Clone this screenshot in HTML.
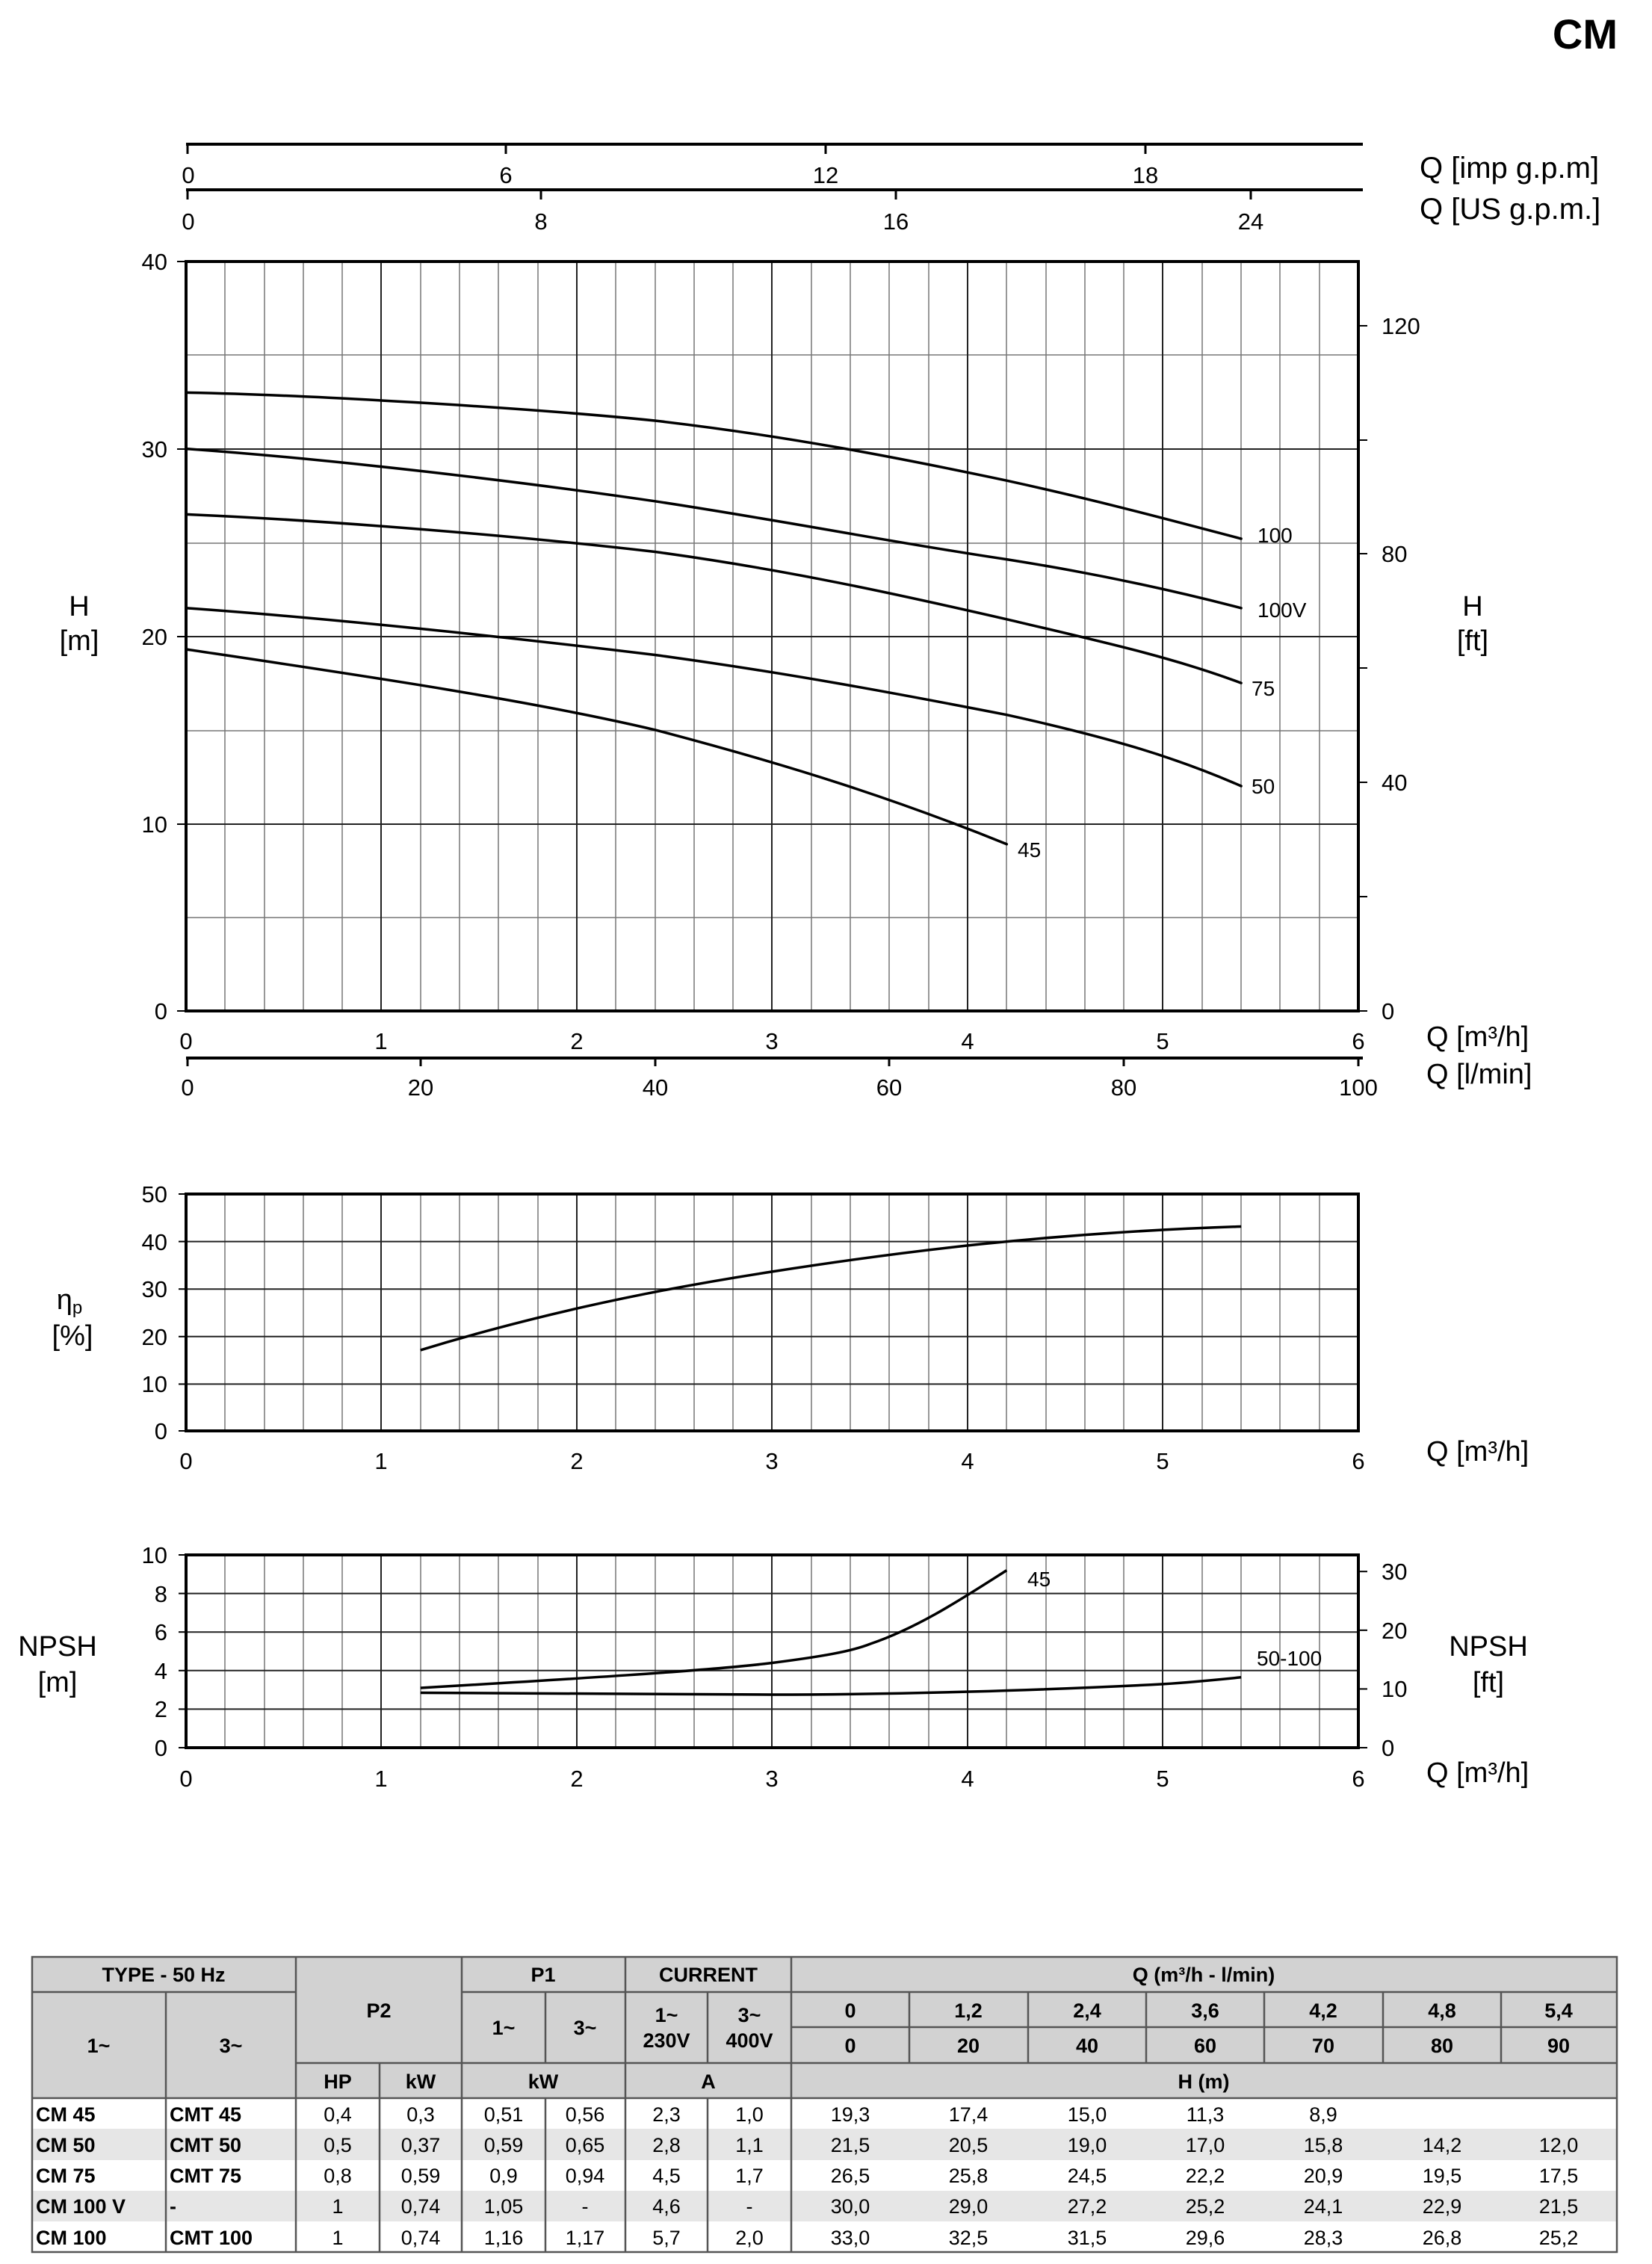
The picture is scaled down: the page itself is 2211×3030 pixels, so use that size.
<!DOCTYPE html>
<html><head><meta charset="utf-8"><style>
html,body{margin:0;padding:0;background:#fff}
svg{display:block}
text{font-family:"Liberation Sans",sans-serif;fill:#000}
</style></head><body>
<svg width="2211" height="3030" viewBox="0 0 2211 3030" xmlns="http://www.w3.org/2000/svg">
<text x="2165" y="65" font-size="56" font-weight="bold" text-anchor="end">CM</text>

<!-- top axes -->
<g stroke="#000" stroke-width="4">
<line x1="249" y1="193" x2="1824" y2="193"/>
<line x1="249" y1="254" x2="1824" y2="254"/>
</g>
<g stroke="#000" stroke-width="3">
<line x1="251" y1="193" x2="251" y2="206"/><line x1="677" y1="193" x2="677" y2="206"/><line x1="1105" y1="193" x2="1105" y2="206"/><line x1="1533" y1="193" x2="1533" y2="206"/>
<line x1="251" y1="254" x2="251" y2="267"/><line x1="724" y1="254" x2="724" y2="267"/><line x1="1199" y1="254" x2="1199" y2="267"/><line x1="1674" y1="254" x2="1674" y2="267"/>
</g>
<g font-size="31" text-anchor="middle">
<text x="252" y="245">0</text><text x="677" y="245">6</text><text x="1105" y="245">12</text><text x="1533" y="245">18</text>
<text x="252" y="307">0</text><text x="724" y="307">8</text><text x="1199" y="307">16</text><text x="1674" y="307">24</text>
</g>
<text x="1900" y="238" font-size="40">Q [imp g.p.m]</text>
<text x="1900" y="293" font-size="40">Q [US g.p.m.]</text>

<!-- main chart grid -->
<g stroke="#777" stroke-width="1.5">
<line x1="301" y1="350" x2="301" y2="1353"/><line x1="354" y1="350" x2="354" y2="1353"/><line x1="406" y1="350" x2="406" y2="1353"/><line x1="458" y1="350" x2="458" y2="1353"/>
<line x1="563" y1="350" x2="563" y2="1353"/><line x1="615" y1="350" x2="615" y2="1353"/><line x1="667" y1="350" x2="667" y2="1353"/><line x1="720" y1="350" x2="720" y2="1353"/>
<line x1="824" y1="350" x2="824" y2="1353"/><line x1="877" y1="350" x2="877" y2="1353"/><line x1="929" y1="350" x2="929" y2="1353"/><line x1="981" y1="350" x2="981" y2="1353"/>
<line x1="1086" y1="350" x2="1086" y2="1353"/><line x1="1138" y1="350" x2="1138" y2="1353"/><line x1="1190" y1="350" x2="1190" y2="1353"/><line x1="1243" y1="350" x2="1243" y2="1353"/>
<line x1="1347" y1="350" x2="1347" y2="1353"/><line x1="1400" y1="350" x2="1400" y2="1353"/><line x1="1452" y1="350" x2="1452" y2="1353"/><line x1="1504" y1="350" x2="1504" y2="1353"/>
<line x1="1609" y1="350" x2="1609" y2="1353"/><line x1="1661" y1="350" x2="1661" y2="1353"/><line x1="1713" y1="350" x2="1713" y2="1353"/><line x1="1766" y1="350" x2="1766" y2="1353"/>
<line x1="249" y1="475" x2="1818" y2="475"/><line x1="249" y1="727" x2="1818" y2="727"/><line x1="249" y1="978" x2="1818" y2="978"/><line x1="249" y1="1228" x2="1818" y2="1228"/>
</g>
<g stroke="#222" stroke-width="2">
<line x1="510" y1="350" x2="510" y2="1353"/><line x1="772" y1="350" x2="772" y2="1353"/><line x1="1033" y1="350" x2="1033" y2="1353"/><line x1="1295" y1="350" x2="1295" y2="1353"/><line x1="1556" y1="350" x2="1556" y2="1353"/>
<line x1="249" y1="601" x2="1818" y2="601"/><line x1="249" y1="852" x2="1818" y2="852"/><line x1="249" y1="1103" x2="1818" y2="1103"/>
</g>
<rect x="249" y="350" width="1569" height="1003" fill="none" stroke="#000" stroke-width="4"/>
<g stroke="#000" stroke-width="2">
<line x1="237" y1="350" x2="249" y2="350"/><line x1="237" y1="601" x2="249" y2="601"/><line x1="237" y1="852" x2="249" y2="852"/><line x1="237" y1="1103" x2="249" y2="1103"/><line x1="237" y1="1353" x2="249" y2="1353"/>
<line x1="1818" y1="436" x2="1830" y2="436"/><line x1="1818" y1="589" x2="1830" y2="589"/><line x1="1818" y1="741" x2="1830" y2="741"/><line x1="1818" y1="894" x2="1830" y2="894"/><line x1="1818" y1="1047" x2="1830" y2="1047"/><line x1="1818" y1="1200" x2="1830" y2="1200"/><line x1="1818" y1="1353" x2="1830" y2="1353"/>
</g>
<g font-size="31" text-anchor="end">
<text x="224" y="361">40</text><text x="224" y="612">30</text><text x="224" y="863">20</text><text x="224" y="1114">10</text><text x="224" y="1364">0</text>
</g>
<g font-size="31">
<text x="1849" y="447">120</text><text x="1849" y="752">80</text><text x="1849" y="1058">40</text><text x="1849" y="1364">0</text>
</g>
<g font-size="38" text-anchor="middle">
<text x="106" y="824">H</text><text x="106" y="870">[m]</text>
<text x="1971" y="824">H</text><text x="1971" y="870">[ft]</text>
</g>
<!-- curves -->
<g fill="none" stroke="#000" stroke-width="3.5" stroke-linejoin="round" stroke-linecap="round">
<path d="M249,525.4 C400,528 700,545 876.6,563 C1050,583 1200,612 1347.3,643.2 C1470,670 1570,697 1661.1,721"/>
<path d="M249,600.6 C450,615 700,645 876.6,670.8 C1050,697 1200,727 1347.3,748.6 C1470,768 1570,790 1661.1,813.8"/>
<path d="M249,688.4 C450,697 700,718 876.6,738.5 C1050,762 1200,795 1347.3,828.8 C1480,860 1570,880 1661.1,914.1"/>
<path d="M249,813.8 C450,828 700,855 876.6,876.5 C1050,900 1200,928 1347.3,956.7 C1480,986 1570,1012 1661.1,1052"/>
<path d="M249,869 C450,899 700,935 876.6,976.8 C1060,1025 1200,1070 1347.3,1129.8"/>
</g>
<g font-size="28">
<text x="1683" y="726">100</text><text x="1683" y="826">100V</text><text x="1675" y="931">75</text><text x="1675" y="1062">50</text><text x="1362" y="1147">45</text>
</g>

<!-- bottom axes main -->
<line x1="249" y1="1416" x2="1824" y2="1416" stroke="#000" stroke-width="4"/>
<g stroke="#000" stroke-width="3">
<line x1="251" y1="1416" x2="251" y2="1427"/><line x1="563" y1="1416" x2="563" y2="1427"/><line x1="877" y1="1416" x2="877" y2="1427"/><line x1="1190" y1="1416" x2="1190" y2="1427"/><line x1="1504" y1="1416" x2="1504" y2="1427"/><line x1="1818" y1="1416" x2="1818" y2="1427"/>
</g>
<g font-size="31" text-anchor="middle">
<text x="249" y="1404">0</text><text x="510" y="1404">1</text><text x="772" y="1404">2</text><text x="1033" y="1404">3</text><text x="1295" y="1404">4</text><text x="1556" y="1404">5</text><text x="1818" y="1404">6</text>
<text x="251" y="1466">0</text><text x="563" y="1466">20</text><text x="877" y="1466">40</text><text x="1190" y="1466">60</text><text x="1504" y="1466">80</text><text x="1818" y="1466">100</text>
</g>
<g font-size="38">
<text x="1909" y="1400">Q [m³/h]</text><text x="1909" y="1450">Q [l/min]</text>
</g>

<!-- efficiency chart -->
<g stroke="#777" stroke-width="1.5">
<line x1="301" y1="1598" x2="301" y2="1915"/><line x1="354" y1="1598" x2="354" y2="1915"/><line x1="406" y1="1598" x2="406" y2="1915"/><line x1="458" y1="1598" x2="458" y2="1915"/>
<line x1="563" y1="1598" x2="563" y2="1915"/><line x1="615" y1="1598" x2="615" y2="1915"/><line x1="667" y1="1598" x2="667" y2="1915"/><line x1="720" y1="1598" x2="720" y2="1915"/>
<line x1="824" y1="1598" x2="824" y2="1915"/><line x1="877" y1="1598" x2="877" y2="1915"/><line x1="929" y1="1598" x2="929" y2="1915"/><line x1="981" y1="1598" x2="981" y2="1915"/>
<line x1="1086" y1="1598" x2="1086" y2="1915"/><line x1="1138" y1="1598" x2="1138" y2="1915"/><line x1="1190" y1="1598" x2="1190" y2="1915"/><line x1="1243" y1="1598" x2="1243" y2="1915"/>
<line x1="1347" y1="1598" x2="1347" y2="1915"/><line x1="1400" y1="1598" x2="1400" y2="1915"/><line x1="1452" y1="1598" x2="1452" y2="1915"/><line x1="1504" y1="1598" x2="1504" y2="1915"/>
<line x1="1609" y1="1598" x2="1609" y2="1915"/><line x1="1661" y1="1598" x2="1661" y2="1915"/><line x1="1713" y1="1598" x2="1713" y2="1915"/><line x1="1766" y1="1598" x2="1766" y2="1915"/>
</g>
<g stroke="#222" stroke-width="2">
<line x1="510" y1="1598" x2="510" y2="1915"/><line x1="772" y1="1598" x2="772" y2="1915"/><line x1="1033" y1="1598" x2="1033" y2="1915"/><line x1="1295" y1="1598" x2="1295" y2="1915"/><line x1="1556" y1="1598" x2="1556" y2="1915"/>
<line x1="249" y1="1661.6" x2="1818" y2="1661.6"/><line x1="249" y1="1725.2" x2="1818" y2="1725.2"/><line x1="249" y1="1788.8" x2="1818" y2="1788.8"/><line x1="249" y1="1852.4" x2="1818" y2="1852.4"/>
</g>
<rect x="249" y="1598" width="1569" height="317" fill="none" stroke="#000" stroke-width="4"/>
<g stroke="#000" stroke-width="2">
<line x1="239" y1="1598" x2="249" y2="1598"/><line x1="239" y1="1661.6" x2="249" y2="1661.6"/><line x1="239" y1="1725.2" x2="249" y2="1725.2"/><line x1="239" y1="1788.8" x2="249" y2="1788.8"/><line x1="239" y1="1852.4" x2="249" y2="1852.4"/><line x1="239" y1="1915" x2="249" y2="1915"/>
</g>
<g font-size="31" text-anchor="end">
<text x="224" y="1609">50</text><text x="224" y="1673">40</text><text x="224" y="1736">30</text><text x="224" y="1800">20</text><text x="224" y="1863">10</text><text x="224" y="1926">0</text>
</g>
<text x="93" y="1752" font-size="38" text-anchor="middle">η<tspan font-size="24" dy="6">p</tspan></text>
<text x="97" y="1800" font-size="38" text-anchor="middle">[%]</text>
<path d="M562.8,1806.9 C700,1765 850,1730 1033.5,1701.9 C1200,1676 1400,1650 1661.1,1641.5" fill="none" stroke="#000" stroke-width="3.5"/>
<g font-size="31" text-anchor="middle">
<text x="249" y="1966">0</text><text x="510" y="1966">1</text><text x="772" y="1966">2</text><text x="1033" y="1966">3</text><text x="1295" y="1966">4</text><text x="1556" y="1966">5</text><text x="1818" y="1966">6</text>
</g>
<text x="1909" y="1955" font-size="38">Q [m³/h]</text>

<!-- NPSH chart -->
<g stroke="#777" stroke-width="1.5">
<line x1="301" y1="2081" x2="301" y2="2339"/><line x1="354" y1="2081" x2="354" y2="2339"/><line x1="406" y1="2081" x2="406" y2="2339"/><line x1="458" y1="2081" x2="458" y2="2339"/>
<line x1="563" y1="2081" x2="563" y2="2339"/><line x1="615" y1="2081" x2="615" y2="2339"/><line x1="667" y1="2081" x2="667" y2="2339"/><line x1="720" y1="2081" x2="720" y2="2339"/>
<line x1="824" y1="2081" x2="824" y2="2339"/><line x1="877" y1="2081" x2="877" y2="2339"/><line x1="929" y1="2081" x2="929" y2="2339"/><line x1="981" y1="2081" x2="981" y2="2339"/>
<line x1="1086" y1="2081" x2="1086" y2="2339"/><line x1="1138" y1="2081" x2="1138" y2="2339"/><line x1="1190" y1="2081" x2="1190" y2="2339"/><line x1="1243" y1="2081" x2="1243" y2="2339"/>
<line x1="1347" y1="2081" x2="1347" y2="2339"/><line x1="1400" y1="2081" x2="1400" y2="2339"/><line x1="1452" y1="2081" x2="1452" y2="2339"/><line x1="1504" y1="2081" x2="1504" y2="2339"/>
<line x1="1609" y1="2081" x2="1609" y2="2339"/><line x1="1661" y1="2081" x2="1661" y2="2339"/><line x1="1713" y1="2081" x2="1713" y2="2339"/><line x1="1766" y1="2081" x2="1766" y2="2339"/>
</g>
<g stroke="#222" stroke-width="2">
<line x1="510" y1="2081" x2="510" y2="2339"/><line x1="772" y1="2081" x2="772" y2="2339"/><line x1="1033" y1="2081" x2="1033" y2="2339"/><line x1="1295" y1="2081" x2="1295" y2="2339"/><line x1="1556" y1="2081" x2="1556" y2="2339"/>
<line x1="249" y1="2132.6" x2="1818" y2="2132.6"/><line x1="249" y1="2184.2" x2="1818" y2="2184.2"/><line x1="249" y1="2235.8" x2="1818" y2="2235.8"/><line x1="249" y1="2287.4" x2="1818" y2="2287.4"/>
</g>
<rect x="249" y="2081" width="1569" height="258" fill="none" stroke="#000" stroke-width="4"/>
<g stroke="#000" stroke-width="2">
<line x1="239" y1="2081" x2="249" y2="2081"/><line x1="239" y1="2132.6" x2="249" y2="2132.6"/><line x1="239" y1="2184.2" x2="249" y2="2184.2"/><line x1="239" y1="2235.8" x2="249" y2="2235.8"/><line x1="239" y1="2287.4" x2="249" y2="2287.4"/><line x1="239" y1="2339" x2="249" y2="2339"/>
<line x1="1818" y1="2103.2" x2="1830" y2="2103.2"/><line x1="1818" y1="2181.8" x2="1830" y2="2181.8"/><line x1="1818" y1="2260.4" x2="1830" y2="2260.4"/><line x1="1818" y1="2339" x2="1830" y2="2339"/>
</g>
<g font-size="31" text-anchor="end">
<text x="224" y="2092">10</text><text x="224" y="2144">8</text><text x="224" y="2195">6</text><text x="224" y="2247">4</text><text x="224" y="2298">2</text><text x="224" y="2350">0</text>
</g>
<g font-size="31">
<text x="1849" y="2114">30</text><text x="1849" y="2193">20</text><text x="1849" y="2271">10</text><text x="1849" y="2350">0</text>
</g>
<g font-size="38" text-anchor="middle">
<text x="77" y="2216">NPSH</text><text x="77" y="2264">[m]</text>
<text x="1992" y="2216">NPSH</text><text x="1992" y="2264">[ft]</text>
</g>
<g fill="none" stroke="#000" stroke-width="3.5">
<path d="M562.8,2259 C750,2248 950,2236 1033.5,2225.5 C1100,2217 1140,2210 1165,2200 C1230,2178 1290,2138 1347.3,2101.6"/>
<path d="M562.8,2265.5 C750,2267 900,2268 1033.5,2268 C1200,2268 1400,2262 1556.5,2253.9 C1600,2251 1630,2248 1661.1,2244.8"/>
</g>
<g font-size="28"><text x="1375" y="2123">45</text><text x="1682" y="2229">50-100</text></g>
<g font-size="31" text-anchor="middle">
<text x="249" y="2391">0</text><text x="510" y="2391">1</text><text x="772" y="2391">2</text><text x="1033" y="2391">3</text><text x="1295" y="2391">4</text><text x="1556" y="2391">5</text><text x="1818" y="2391">6</text>
</g>
<text x="1909" y="2385" font-size="38">Q [m³/h]</text>

<!-- table: cols 43,222,396,508,618,730,837,947,1059,1217,1376,1534,1692,1851,2009,2164 -->
<rect x="43" y="2619" width="2121" height="189" fill="#d2d2d2"/>
<rect x="43" y="2849" width="2121" height="42" fill="#e6e6e6"/>
<rect x="43" y="2932" width="2121" height="41" fill="#e6e6e6"/>
<g stroke="#555" stroke-width="2.5" fill="none">
<rect x="43" y="2619" width="2121" height="395"/>
<line x1="43" y1="2666" x2="396" y2="2666"/>
<line x1="618" y1="2666" x2="2164" y2="2666"/>
<line x1="1059" y1="2713" x2="2164" y2="2713"/>
<line x1="396" y1="2761" x2="2164" y2="2761"/>
<line x1="43" y1="2808" x2="2164" y2="2808"/>
<line x1="222" y1="2666" x2="222" y2="3014"/>
<line x1="396" y1="2619" x2="396" y2="3014"/>
<line x1="508" y1="2761" x2="508" y2="3014"/>
<line x1="618" y1="2619" x2="618" y2="3014"/>
<line x1="730" y1="2666" x2="730" y2="2761"/><line x1="730" y1="2808" x2="730" y2="3014"/>
<line x1="837" y1="2619" x2="837" y2="3014"/>
<line x1="947" y1="2666" x2="947" y2="2761"/><line x1="947" y1="2808" x2="947" y2="3014"/>
<line x1="1059" y1="2619" x2="1059" y2="3014"/>
<line x1="1217" y1="2666" x2="1217" y2="2761"/><line x1="1376" y1="2666" x2="1376" y2="2761"/><line x1="1534" y1="2666" x2="1534" y2="2761"/><line x1="1692" y1="2666" x2="1692" y2="2761"/><line x1="1851" y1="2666" x2="1851" y2="2761"/><line x1="2009" y1="2666" x2="2009" y2="2761"/>
</g>
<g font-size="27" text-anchor="middle" font-weight="bold">
<text x="219" y="2652">TYPE - 50 Hz</text>
<text x="132" y="2747">1~</text><text x="309" y="2747">3~</text>
<text x="507" y="2700">P2</text>
<text x="452" y="2795">HP</text><text x="563" y="2795">kW</text>
<text x="727" y="2652">P1</text>
<text x="674" y="2723">1~</text><text x="783" y="2723">3~</text>
<text x="727" y="2795">kW</text>
<text x="948" y="2652">CURRENT</text>
<text x="892" y="2706">1~</text><text x="892" y="2740">230V</text>
<text x="1003" y="2706">3~</text><text x="1003" y="2740">400V</text>
<text x="948" y="2795">A</text>
<text x="1611" y="2652">Q (m³/h - l/min)</text>
<text x="1138" y="2700">0</text><text x="1296" y="2700">1,2</text><text x="1455" y="2700">2,4</text><text x="1613" y="2700">3,6</text><text x="1771" y="2700">4,2</text><text x="1930" y="2700">4,8</text><text x="2086" y="2700">5,4</text>
<text x="1138" y="2747">0</text><text x="1296" y="2747">20</text><text x="1455" y="2747">40</text><text x="1613" y="2747">60</text><text x="1771" y="2747">70</text><text x="1930" y="2747">80</text><text x="2086" y="2747">90</text>
<text x="1611" y="2795">H (m)</text>
</g>
<g font-size="27" font-weight="bold">
<text x="48" y="2839">CM 45</text><text x="227" y="2839">CMT 45</text>
<text x="48" y="2880">CM 50</text><text x="227" y="2880">CMT 50</text>
<text x="48" y="2921">CM 75</text><text x="227" y="2921">CMT 75</text>
<text x="48" y="2962">CM 100 V</text><text x="227" y="2962">-</text>
<text x="48" y="3004">CM 100</text><text x="227" y="3004">CMT 100</text>
</g>
<g font-size="27" text-anchor="middle">
<text x="452" y="2839">0,4</text><text x="563" y="2839">0,3</text><text x="674" y="2839">0,51</text><text x="783" y="2839">0,56</text><text x="892" y="2839">2,3</text><text x="1003" y="2839">1,0</text>
<text x="1138" y="2839">19,3</text><text x="1296" y="2839">17,4</text><text x="1455" y="2839">15,0</text><text x="1613" y="2839">11,3</text><text x="1771" y="2839">8,9</text>
<text x="452" y="2880">0,5</text><text x="563" y="2880">0,37</text><text x="674" y="2880">0,59</text><text x="783" y="2880">0,65</text><text x="892" y="2880">2,8</text><text x="1003" y="2880">1,1</text>
<text x="1138" y="2880">21,5</text><text x="1296" y="2880">20,5</text><text x="1455" y="2880">19,0</text><text x="1613" y="2880">17,0</text><text x="1771" y="2880">15,8</text><text x="1930" y="2880">14,2</text><text x="2086" y="2880">12,0</text>
<text x="452" y="2921">0,8</text><text x="563" y="2921">0,59</text><text x="674" y="2921">0,9</text><text x="783" y="2921">0,94</text><text x="892" y="2921">4,5</text><text x="1003" y="2921">1,7</text>
<text x="1138" y="2921">26,5</text><text x="1296" y="2921">25,8</text><text x="1455" y="2921">24,5</text><text x="1613" y="2921">22,2</text><text x="1771" y="2921">20,9</text><text x="1930" y="2921">19,5</text><text x="2086" y="2921">17,5</text>
<text x="452" y="2962">1</text><text x="563" y="2962">0,74</text><text x="674" y="2962">1,05</text><text x="783" y="2962">-</text><text x="892" y="2962">4,6</text><text x="1003" y="2962">-</text>
<text x="1138" y="2962">30,0</text><text x="1296" y="2962">29,0</text><text x="1455" y="2962">27,2</text><text x="1613" y="2962">25,2</text><text x="1771" y="2962">24,1</text><text x="1930" y="2962">22,9</text><text x="2086" y="2962">21,5</text>
<text x="452" y="3004">1</text><text x="563" y="3004">0,74</text><text x="674" y="3004">1,16</text><text x="783" y="3004">1,17</text><text x="892" y="3004">5,7</text><text x="1003" y="3004">2,0</text>
<text x="1138" y="3004">33,0</text><text x="1296" y="3004">32,5</text><text x="1455" y="3004">31,5</text><text x="1613" y="3004">29,6</text><text x="1771" y="3004">28,3</text><text x="1930" y="3004">26,8</text><text x="2086" y="3004">25,2</text>
</g>
</svg>
</body></html>
